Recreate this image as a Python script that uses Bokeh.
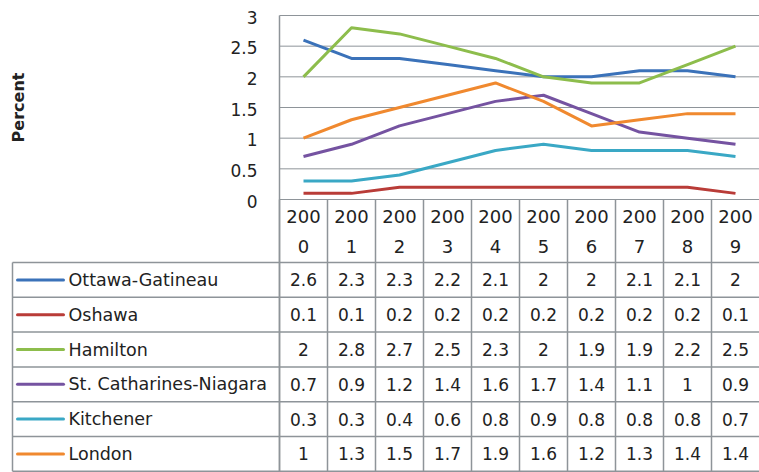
import math
from bokeh.plotting import figure
from bokeh.models import Range1d
from bokeh.core.properties import value
from bokeh.embed import file_html
from bokeh.resources import INLINE

# ---------------- data ----------------
years = ["2000", "2001", "2002", "2003", "2004", "2005", "2006", "2007", "2008", "2009"]
series_names = ["Ottawa-Gatineau", "Oshawa", "Hamilton", "St. Catharines-Niagara", "Kitchener", "London"]
ottawa = [2.6, 2.3, 2.3, 2.2, 2.1, 2, 2, 2.1, 2.1, 2]
oshawa = [0.1, 0.1, 0.2, 0.2, 0.2, 0.2, 0.2, 0.2, 0.2, 0.1]
hamilton = [2, 2.8, 2.7, 2.5, 2.3, 2, 1.9, 1.9, 2.2, 2.5]
st_catharines = [0.7, 0.9, 1.2, 1.4, 1.6, 1.7, 1.4, 1.1, 1, 0.9]
kitchener = [0.3, 0.3, 0.4, 0.6, 0.8, 0.9, 0.8, 0.8, 0.8, 0.7]
london = [1, 1.3, 1.5, 1.7, 1.9, 1.6, 1.2, 1.3, 1.4, 1.4]
y_ticks = [0, 0.5, 1, 1.5, 2, 2.5, 3]
y_tick_labels = ["0", "0.5", "1", "1.5", "2", "2.5", "3"]
y_label = "Percent"

series = [ottawa, oshawa, hamilton, st_catharines, kitchener, london]
colors = ["#3B72B9", "#B93C38", "#8DBD4C", "#7553A1", "#3AA8C5", "#F0892F"]

FONT = "DejaVu Sans"
GRID = "#8E9499"
TXT = "#222222"

n_years = len(years)
idx = list(range(n_years))
n_rows = len(series)
y_min, y_max = y_ticks[0], y_ticks[-1]

# ---------------- layout constants (pixels -> data units) ----------------
W, H = 759, 472
px_x = 48.0                     # pixels per year column
px_y = 184.0 / (y_max - y_min)  # pixels per value unit in the chart
plot_left_px = 279              # chart area starts this far from the figure's left
tbl_left_px = 12                # table left border
top_px = 15                     # space above the top gridline
header_px = 63
row_px = 34.8

def ux(px):  # horizontal pixel distance -> data units
    return px / px_x

def uy(px):  # vertical pixel distance -> data units
    return px / px_y

x_start = -0.5 - ux(plot_left_px)
x_end = x_start + ux(W)
y_end = y_max + uy(top_px)
y_start = y_end - uy(H)

tbl_left = -0.5 - ux(plot_left_px - tbl_left_px)
header_bottom = y_min - uy(header_px)
row_top = [header_bottom - uy(row_px) * k for k in range(n_rows + 1)]
right_edge = n_years - 0.5

p = figure(width=W, height=H,
           x_range=Range1d(x_start, x_end), y_range=Range1d(y_start, y_end),
           output_backend="svg", toolbar_location=None,
           x_axis_location=None, y_axis_location=None,
           min_border_left=0, min_border_right=0, min_border_top=0, min_border_bottom=0)
p.grid.visible = False
p.outline_line_color = None
p.background_fill_color = "white"
p.border_fill_color = "white"

# ----- chart gridlines -----
p.segment(x0=[-0.5] * len(y_ticks), x1=[right_edge] * len(y_ticks), y0=y_ticks, y1=y_ticks,
          line_color=GRID, line_width=1)

# ----- table grid -----
x0, y0, x1, y1 = [], [], [], []
for yy in row_top:
    x0.append(tbl_left); x1.append(right_edge); y0.append(yy); y1.append(yy)
for k in range(n_years):
    x0.append(k - 0.5); x1.append(k - 0.5); y0.append(row_top[-1]); y1.append(y_min)
x0.append(tbl_left); x1.append(tbl_left); y0.append(row_top[-1]); y1.append(row_top[0])
p.segment(x0=x0, y0=y0, x1=x1, y1=y1, line_color=GRID, line_width=1.5)
# y axis line (continues through the table)
p.segment(x0=[-0.5], x1=[-0.5], y0=[row_top[-1]], y1=[y_max], line_color=GRID, line_width=1.5)

# ----- y tick labels & axis title -----
p.text(x=[-0.5 - ux(22)] * len(y_ticks), y=[t - uy(1.5) for t in y_ticks], text=y_tick_labels,
       text_align="right", text_baseline="middle",
       text_font=value(FONT), text_font_size="17px", text_color=TXT)
p.text(x=[x_start + ux(18)], y=[(y_min + y_max) / 2], text=[y_label], angle=math.pi / 2,
       text_align="center", text_baseline="middle",
       text_font=value(FONT), text_font_size="16px", text_font_style="bold", text_color=TXT)

# ----- series lines -----
for vals, c in zip(series, colors):
    p.line(x=idx, y=vals, line_color=c, line_width=3, line_join="round")

# ----- header years (two lines per cell) -----
hc = (y_min + header_bottom) / 2
p.text(x=idx, y=[hc + uy(15)] * n_years, text=[y[:3] for y in years],
       text_align="center", text_baseline="middle",
       text_font=value(FONT), text_font_size="18px", text_color=TXT)
p.text(x=idx, y=[hc - uy(15)] * n_years, text=[y[3:] for y in years],
       text_align="center", text_baseline="middle",
       text_font=value(FONT), text_font_size="18px", text_color=TXT)

# ----- data rows -----
for r, (name, vals, c) in enumerate(zip(series_names, series, colors)):
    yc = (row_top[r] + row_top[r + 1]) / 2
    p.segment(x0=[tbl_left + ux(5)], y0=[yc], x1=[tbl_left + ux(51)], y1=[yc],
              line_color=c, line_width=3, line_cap="round")
    p.text(x=[tbl_left + ux(56)], y=[yc], text=[name],
           text_align="left", text_baseline="middle",
           text_font=value(FONT), text_font_size="17.5px", text_color=TXT)
    p.text(x=idx, y=[yc] * n_years, text=[f"{v:g}" for v in vals],
           text_align="center", text_baseline="middle",
           text_font=value(FONT), text_font_size="17px", text_color=TXT)

open("out.html", "w").write(file_html(p, INLINE))
